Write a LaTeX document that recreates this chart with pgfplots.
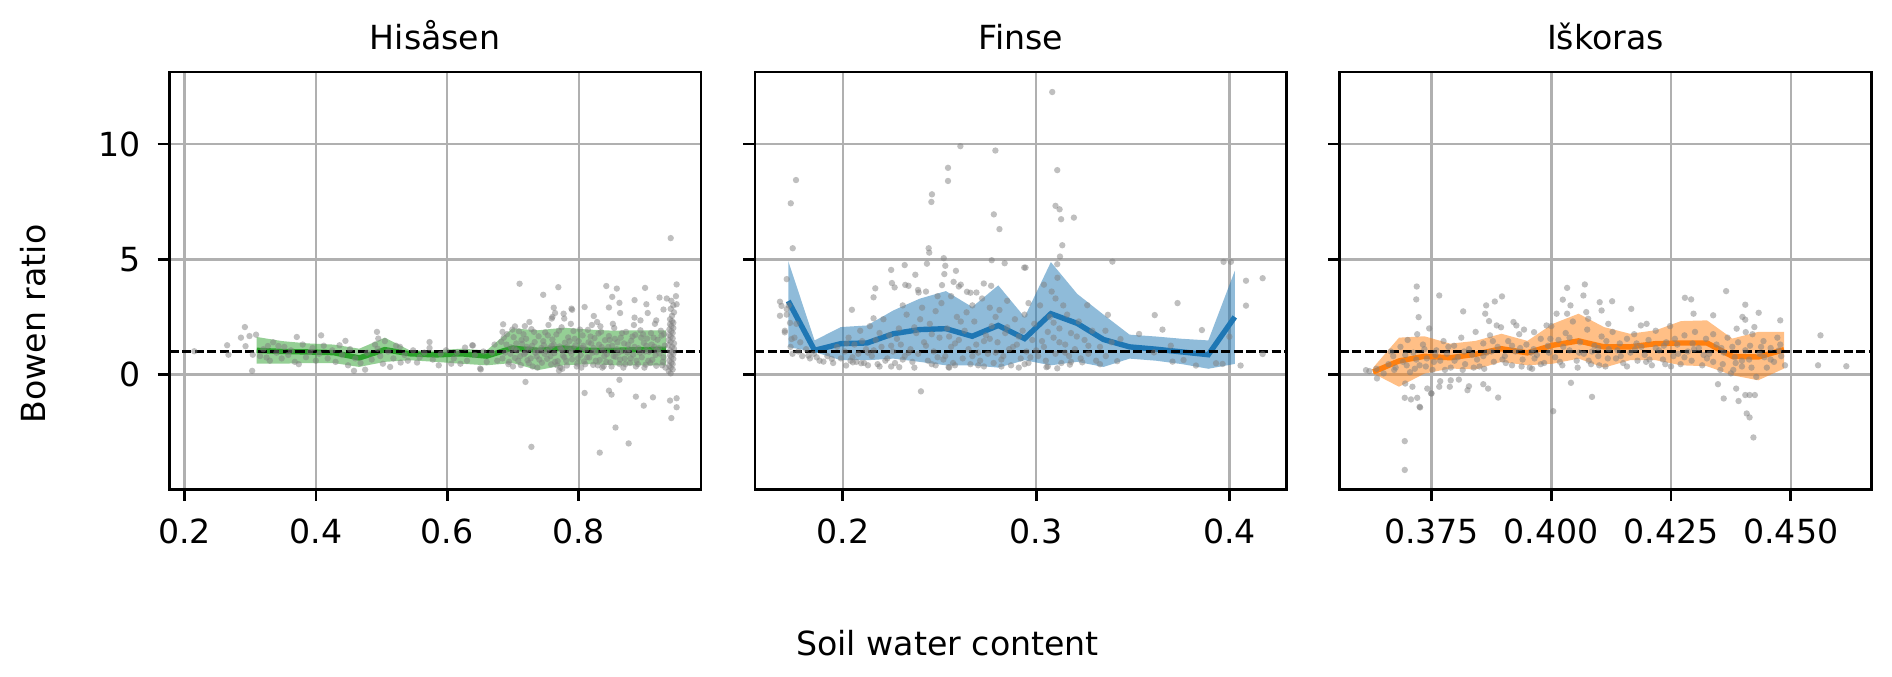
\documentclass[border=0pt]{standalone}
\usepackage{fontspec}
\setmainfont{DejaVu Sans}
\usepackage{pgfplots}
\usepackage{pgfplotstable}
\pgfplotsset{compat=1.18}
\usepgfplotslibrary{fillbetween}
\definecolor{tabgreen}{RGB}{44,160,44}
\definecolor{tabblue}{RGB}{31,119,180}
\definecolor{taborange}{RGB}{255,127,14}
\definecolor{gridgray}{RGB}{176,176,176}

\pgfplotstableread{
x med lo hi
0.310 1.05 0.47 1.63
0.349 1.00 0.47 1.45
0.388 0.98 0.50 1.35
0.427 0.95 0.50 1.30
0.466 0.72 0.33 1.12
0.505 1.08 0.55 1.60
0.543 0.90 0.62 1.05
0.582 0.85 0.55 1.05
0.621 0.90 0.47 1.12
0.660 0.80 0.40 1.05
0.699 1.15 0.50 2.00
0.738 1.05 0.19 1.92
0.777 1.15 0.40 2.03
0.816 1.05 0.45 1.95
0.855 1.05 0.40 1.90
0.894 1.08 0.40 1.92
0.933 1.10 0.40 1.92
}\bandA

\pgfplotstableread{
x med lo hi
0.1718 3.19 1.19 4.92
0.1854 1.05 0.98 1.48
0.1990 1.34 0.62 2.06
0.2126 1.37 0.62 2.13
0.2261 1.77 0.69 2.78
0.2397 1.95 0.55 3.29
0.2533 1.99 0.40 3.62
0.2669 1.66 0.40 2.93
0.2804 2.13 0.30 3.87
0.2940 1.56 0.62 2.49
0.3076 2.64 0.40 4.88
0.3212 2.22 0.55 3.50
0.3348 1.52 0.33 2.60
0.3483 1.20 0.69 1.73
0.3619 1.10 0.60 1.65
0.3755 0.98 0.45 1.55
0.3890 0.86 0.25 1.48
0.4027 2.50 0.46 4.50
}\bandB

\pgfplotstableread{
x med lo hi
0.3628 0.11 0.05 0.30
0.3682 0.59 -0.53 1.60
0.3735 0.79 0.04 1.66
0.3789 0.73 0.26 1.34
0.3842 0.88 0.22 1.46
0.3896 1.12 0.55 1.77
0.3950 0.94 0.40 1.46
0.4003 1.27 0.47 2.20
0.4057 1.46 0.69 2.64
0.4110 1.20 0.30 2.06
0.4164 1.20 0.62 1.77
0.4218 1.34 0.62 1.92
0.4271 1.37 0.40 2.32
0.4325 1.37 0.36 2.35
0.4378 0.79 -0.03 1.56
0.4432 0.76 -0.25 1.85
0.4486 1.08 0.26 1.85
}\bandC

\pgfplotsset{
  panel/.style={
    scale only axis, width=132.9pt, height=104.33pt,
    anchor=south west,
    ymin=-4.98, ymax=13.13,
    ytick={0,5,10},
    grid=major,
    major grid style={line width=0.6pt, color=gridgray},
    axis line style={line width=0.67pt},
    every tick/.style={line width=0.67pt, black},
    major tick length=2.9pt,
    tick align=outside,
    xtick pos=left, ytick pos=left,
    tick label style={font=\fontsize{8.3}{10}\selectfont},
    xticklabel style={yshift=-1.5pt},
    yticklabel style={xshift=-1.2pt},
    /pgf/number format/assume math mode=true,
  },
  scat/.style={only marks, mark=*, mark size=0.8pt,
    mark options={fill=gray, fill opacity=0.5, draw opacity=0}},
  med/.style={line width=1.35pt, no marks},
  hline/.style={black, line width=0.55pt, dash pattern=on 2.3pt off 0.85pt},
}

\begin{document}
\fontsize{8.3}{10}\selectfont
\begin{tikzpicture}

% ---------------- Hisasen ----------------
\begin{axis}[panel, name=a1, at={(42.33pt,46.68pt)},
  xmin=0.177, xmax=0.986,
  xtick={0.2,0.4,0.6,0.8}, xticklabels={0.2,0.4,0.6,0.8},
  yticklabels={0,5,10}]
\addplot[scat] coordinates {
(0.215,1.01)(0.265,1.27)(0.267,0.86)(0.286,1.60)(0.292,2.06)(0.299,1.67)(0.309,1.73)(0.293,1.23)(0.303,0.16)(0.304,0.86)
(0.325,0.74)(0.327,1.24)(0.343,1.24)(0.371,1.63)(0.374,0.45)(0.391,0.98)(0.408,1.70)(0.436,1.27)(0.445,1.46)(0.449,0.40)
(0.458,0.16)(0.475,0.21)(0.493,1.85)(0.495,1.56)(0.494,1.12)(0.502,0.47)(0.513,0.33)(0.528,1.20)(0.529,0.52)(0.554,0.52)
(0.573,1.41)(0.573,1.15)(0.587,0.40)(0.606,0.47)(0.620,0.47)(0.627,1.17)(0.638,1.27)(0.650,0.26)(0.685,2.18)(0.703,2.09)
(0.710,3.94)(0.719,-0.32)(0.725,2.28)(0.746,3.46)(0.769,3.79)(0.762,2.90)(0.760,2.50)(0.777,2.64)(0.790,2.81)(0.809,2.93)
(0.809,-0.80)(0.823,2.54)
(0.940,5.92)(0.842,3.84)(0.858,3.73)(0.901,3.76)(0.949,3.91)(0.764,2.67)(0.789,2.86)(0.759,2.43)(0.778,2.43)
(0.846,2.91)(0.851,3.37)(0.862,3.11)(0.863,2.67)(0.885,3.23)(0.903,3.05)(0.905,2.67)(0.923,3.34)(0.934,3.30)(0.948,3.40)
(0.949,3.05)(0.929,2.82)(0.918,2.35)(0.885,2.47)(0.894,2.35)(0.684,1.85)(0.828,2.28)(0.833,2.09)(0.639,1.26)
(0.846,-0.70)(0.850,-0.87)(0.862,-0.23)(0.887,-0.96)(0.899,-1.35)(0.913,-0.99)(0.939,-1.13)(0.949,-1.03)(0.949,-1.42)
(0.941,-1.89)(0.856,-2.30)(0.876,-2.99)(0.832,-3.39)(0.728,-3.14)(0.651,0.22)(0.775,0.25)(0.770,0.17)
(0.315,0.80)(0.320,1.10)(0.330,0.60)(0.335,1.40)(0.340,0.95)(0.348,0.70)(0.352,1.20)(0.358,0.85)(0.362,1.05)(0.368,0.55)
(0.380,1.30)(0.385,0.75)(0.395,1.15)(0.400,0.60)(0.405,0.90)(0.412,1.25)(0.418,0.70)(0.425,1.05)(0.430,0.55)(0.440,0.85)
(0.452,1.10)(0.460,0.70)(0.468,0.50)(0.478,0.95)(0.485,0.65)(0.490,1.30)(0.498,0.80)(0.505,1.45)(0.510,1.00)(0.518,0.70)
(0.522,1.25)(0.535,0.85)(0.540,0.60)(0.548,1.05)(0.558,0.75)(0.565,0.95)(0.578,0.65)(0.590,0.90)(0.598,1.05)(0.610,0.70)
(0.615,0.95)(0.630,0.60)(0.642,0.85)(0.655,1.00)(0.660,0.55)(0.668,0.95)(0.672,1.30)(0.676,0.60)
(0.682,1.42)(0.688,0.95)(0.691,1.75)(0.694,0.55)(0.697,1.18)(0.701,1.62)(0.703,0.72)(0.706,1.05)(0.709,1.88)(0.712,0.41)
(0.714,1.33)(0.717,0.88)(0.720,1.55)(0.722,0.62)(0.725,1.12)(0.728,1.97)(0.730,0.35)(0.733,1.41)(0.736,0.79)(0.739,1.66)
(0.741,1.02)(0.744,0.51)(0.747,1.28)(0.749,1.83)(0.752,0.68)(0.755,1.15)(0.758,0.44)(0.760,1.52)(0.763,0.93)(0.766,1.74)
(0.768,0.58)(0.771,1.22)(0.774,2.05)(0.776,0.82)(0.779,1.38)(0.782,0.39)(0.784,1.61)(0.787,1.01)(0.790,0.66)(0.792,1.89)
(0.795,1.27)(0.798,0.48)(0.800,1.45)(0.803,0.85)(0.806,1.70)(0.808,0.57)(0.811,1.09)(0.814,1.94)(0.816,0.74)(0.819,1.35)
(0.822,0.42)(0.824,1.58)(0.827,0.97)(0.830,1.78)(0.832,0.63)(0.835,1.19)(0.838,0.36)(0.840,1.49)(0.843,0.89)(0.846,1.67)
(0.848,0.53)(0.851,1.25)(0.854,2.02)(0.856,0.77)(0.859,1.40)(0.862,0.46)(0.864,1.60)(0.867,1.03)(0.870,0.69)(0.872,1.85)
(0.875,1.30)(0.878,0.50)(0.880,1.47)(0.883,0.86)(0.886,1.72)(0.888,0.60)(0.891,1.14)(0.894,1.92)(0.896,0.75)(0.899,1.37)
(0.902,0.43)(0.904,1.56)(0.907,0.99)(0.910,1.80)(0.912,0.64)(0.915,1.21)(0.918,0.38)(0.920,1.51)(0.923,0.91)(0.926,1.69)
(0.928,0.55)(0.931,1.26)
(0.684,0.70)(0.690,1.30)(0.696,0.90)(0.702,1.10)(0.708,0.60)(0.713,1.50)(0.719,0.95)(0.724,0.50)(0.729,1.25)(0.735,1.05)
(0.740,0.65)(0.746,1.45)(0.751,1.00)(0.757,0.80)(0.762,1.30)(0.767,0.40)(0.773,1.10)(0.778,0.75)(0.783,1.20)(0.789,0.90)
(0.794,1.55)(0.799,0.70)(0.805,1.15)(0.810,0.45)(0.815,1.40)(0.821,0.95)(0.826,0.60)(0.831,1.30)(0.837,1.05)(0.842,0.55)
(0.847,1.50)(0.853,0.80)(0.858,1.10)(0.863,0.65)(0.869,1.35)(0.874,0.95)(0.879,0.70)(0.885,1.20)(0.890,0.45)(0.895,1.60)
(0.901,1.00)(0.906,0.60)(0.911,1.30)(0.917,0.85)(0.922,1.15)(0.927,0.40)(0.930,1.75)
(0.686,1.60)(0.693,0.45)(0.699,1.95)(0.705,1.35)(0.711,0.80)(0.716,1.75)(0.721,1.20)(0.727,0.70)(0.732,1.85)(0.737,0.30)
(0.743,1.15)(0.748,0.90)(0.753,1.70)(0.759,1.25)(0.764,0.55)(0.770,1.90)(0.775,1.05)(0.781,0.60)(0.786,1.45)(0.791,1.15)
(0.797,0.35)(0.802,1.95)(0.807,1.25)(0.813,0.75)(0.818,1.65)(0.823,1.15)(0.829,0.40)(0.834,1.85)(0.839,0.80)(0.845,1.20)
(0.850,0.35)(0.855,1.55)(0.861,0.95)(0.866,1.80)(0.871,0.45)(0.877,1.10)(0.882,1.65)(0.887,0.35)(0.893,0.95)(0.898,1.75)
(0.903,1.25)(0.909,0.50)(0.914,1.60)(0.919,1.05)(0.925,1.90)(0.929,0.75)
(0.700,0.35)(0.718,2.10)(0.734,0.95)(0.754,2.15)(0.772,0.30)(0.788,2.20)(0.804,0.30)(0.820,2.15)(0.836,0.30)(0.852,2.20)
(0.868,0.30)(0.884,2.15)(0.900,0.30)(0.916,2.20)(0.932,0.30)
(0.937,0.15)(0.940,0.30)(0.943,0.45)(0.938,0.60)(0.941,0.75)(0.944,0.90)(0.939,1.05)(0.942,1.20)(0.945,1.35)(0.937,1.50)
(0.940,1.65)(0.943,1.80)(0.938,1.95)(0.941,2.10)(0.944,2.25)(0.939,2.40)(0.942,2.55)(0.945,2.70)(0.940,2.85)(0.943,0.22)
(0.938,0.38)(0.941,0.52)(0.944,0.68)(0.939,0.83)(0.942,0.97)(0.945,1.12)(0.937,1.28)(0.940,1.42)(0.943,1.57)(0.938,1.72)
(0.941,1.88)(0.944,2.02)(0.939,2.18)(0.942,2.32)(0.944,3.00)(0.941,3.20)(0.940,0.05)
};
\addplot[name path=hiA, draw=none, forget plot] table[x=x, y=hi] {\bandA};
\addplot[name path=loA, draw=none, forget plot] table[x=x, y=lo] {\bandA};
\addplot[tabgreen, fill opacity=0.5, draw=none] fill between[of=hiA and loA];
\addplot[med, tabgreen] table[x=x, y=med] {\bandA};
\addplot[hline] coordinates {(0.177,1) (0.986,1)};
\end{axis}

% ---------------- Finse ----------------
\begin{axis}[panel, name=a2, at={(188.75pt,46.68pt)},
  xmin=0.1546, xmax=0.4295,
  xtick={0.2,0.3,0.4}, xticklabels={0.2,0.3,0.4},
  yticklabels={}]
\addplot[scat] coordinates {
(0.1758,8.44)(0.1731,7.43)(0.1741,5.48)(0.1710,4.14)(0.1675,3.16)(0.1683,2.98)(0.1675,2.55)(0.1710,2.84)(0.1700,1.83)(0.1727,2.24)
(0.1735,1.54)(0.1822,0.82)(0.1865,0.75)(0.1900,0.56)(0.1943,0.68)(0.2047,2.81)(0.2017,0.39)(0.2052,0.53)(0.2095,0.49)(0.2159,2.44)
(0.2159,3.35)(0.2168,3.74)(0.2250,4.54)(0.2254,3.97)(0.2268,3.78)(0.2320,4.75)(0.2323,3.89)(0.2340,3.85)(0.2375,4.33)(0.2389,3.67)
(0.2392,3.56)(0.2292,0.32)(0.2404,-0.73)(0.2444,5.48)(0.2447,5.29)(0.2461,7.82)(0.2458,7.49)(0.2435,4.81)(0.2522,5.05)(0.2530,4.72)
(0.2525,4.36)(0.2513,3.88)(0.2544,8.97)(0.2544,8.40)(0.2608,9.91)(0.2789,9.72)(0.2781,6.95)(0.2810,6.31)(0.2770,4.96)(0.2837,4.83)
(0.2585,4.50)(0.2573,4.02)(0.2600,3.82)(0.2642,3.59)(0.2691,3.56)(0.2729,3.95)(0.2767,3.85)(0.2938,4.64)(0.2547,0.32)
(0.3083,12.26)(0.3109,8.87)(0.3100,7.32)(0.3121,7.17)(0.3129,6.74)(0.3195,6.81)(0.3135,5.61)(0.3123,5.12)(0.3109,4.79)(0.2945,4.64)
(0.3394,4.90)(0.3264,3.01)(0.3371,2.59)(0.3532,1.76)(0.3613,2.58)(0.3653,1.95)(0.3731,3.10)(0.3857,1.93)(0.3969,4.89)(0.4007,4.89)
(0.4085,4.07)(0.4085,2.99)(0.4171,4.18)(0.4171,0.89)(0.4057,0.39)(0.3174,0.43)(0.3238,0.53)(0.3053,0.32)(0.3109,0.27)(0.3419,0.58)
(0.3705,0.56)(0.3762,0.63)(0.3826,0.39)(0.3930,0.49)(0.3964,0.46)(0.3999,1.64)(0.3436,1.54)(0.3358,1.90)(0.3609,0.96)(0.3696,1.25)
(0.170,1.9)(0.171,2.6)(0.172,3.0)(0.173,1.2)(0.174,0.9)(0.175,1.6)(0.176,2.2)(0.177,1.0)(0.178,1.4)(0.179,0.8)
(0.181,1.1)(0.183,0.7)(0.185,0.9)(0.188,0.6)(0.192,0.8)(0.195,0.5)(0.197,1.2)(0.199,0.7)
(0.201,1.0)(0.203,1.6)(0.204,0.6)(0.206,1.3)(0.208,0.9)(0.209,1.9)(0.211,0.5)(0.212,1.1)(0.214,2.1)(0.215,0.8)
(0.217,1.5)(0.218,0.45)(0.220,1.2)(0.221,2.4)(0.223,0.7)(0.224,1.7)(0.226,1.0)(0.227,0.5)(0.229,2.0)(0.230,1.3)
(0.232,0.8)(0.233,2.6)(0.235,1.1)(0.236,0.55)(0.238,1.8)(0.239,0.9)(0.241,2.9)(0.242,1.4)(0.244,0.6)(0.245,2.2)
(0.247,1.0)(0.248,0.4)(0.250,1.6)(0.251,3.1)(0.253,0.8)(0.254,2.0)(0.256,1.2)(0.257,0.5)(0.259,2.5)(0.260,1.5)
(0.262,0.7)(0.263,1.9)(0.265,1.1)(0.266,0.45)(0.268,2.3)(0.269,1.3)(0.271,0.6)(0.272,3.3)(0.274,1.7)(0.275,0.9)
(0.277,2.1)(0.278,0.5)(0.280,1.4)(0.281,2.8)(0.283,0.8)(0.284,1.8)(0.286,1.1)(0.287,0.4)(0.289,2.4)(0.290,1.3)
(0.292,0.7)(0.293,1.9)(0.295,1.0)(0.296,0.5)(0.298,1.5)(0.299,2.2)(0.301,0.8)(0.302,3.0)(0.304,1.2)(0.305,0.6)
(0.307,2.5)(0.308,3.6)(0.309,1.6)(0.310,0.9)(0.311,4.2)(0.312,2.0)(0.313,0.5)(0.314,3.0)(0.315,1.3)(0.316,2.6)
(0.317,0.8)(0.318,1.8)(0.320,1.1)(0.322,2.3)(0.323,0.7)(0.325,1.5)(0.327,0.9)(0.329,1.9)(0.331,0.6)(0.333,1.2)
(0.336,0.8)(0.339,1.4)
(0.205,0.75)(0.210,1.45)(0.216,1.05)(0.222,0.60)(0.228,1.55)(0.234,0.95)(0.240,2.40)(0.246,1.75)(0.252,0.65)(0.258,1.35)
(0.264,2.70)(0.270,0.95)(0.276,1.55)(0.282,0.65)(0.288,1.20)(0.294,2.60)(0.300,1.05)(0.306,1.85)(0.312,1.40)(0.318,0.55)
(0.219,0.35)(0.237,0.30)(0.255,0.30)(0.273,0.35)(0.291,0.30)(0.243,3.6)(0.261,3.9)(0.249,3.4)(0.267,3.0)(0.285,3.2)
(0.231,3.0)(0.279,2.5)
(0.202,1.35)(0.207,0.55)(0.213,0.95)(0.219,1.80)(0.225,1.25)(0.231,0.65)(0.237,2.05)(0.243,1.25)(0.249,0.75)(0.255,1.65)
(0.261,2.30)(0.267,0.80)(0.273,1.45)(0.279,0.95)(0.285,2.05)(0.291,1.65)(0.297,0.75)(0.303,1.45)(0.309,2.25)(0.315,0.95)
(0.321,1.65)(0.327,1.25)(0.333,0.45)(0.213,0.40)(0.225,0.35)(0.246,0.45)(0.258,0.40)(0.270,0.40)(0.282,0.35)(0.294,0.45)
(0.306,0.35)(0.248,2.75)(0.256,3.40)(0.266,3.55)(0.276,2.90)(0.296,3.10)(0.304,3.90)(0.310,3.30)
};
\addplot[name path=hiB, draw=none, forget plot] table[x=x, y=hi] {\bandB};
\addplot[name path=loB, draw=none, forget plot] table[x=x, y=lo] {\bandB};
\addplot[tabblue, fill opacity=0.5, draw=none] fill between[of=hiB and loB];
\addplot[med, tabblue] table[x=x, y=med] {\bandB};
\addplot[hline] coordinates {(0.1546,1) (0.4295,1)};
\end{axis}

% ---------------- Iskoras ----------------
\begin{axis}[panel, name=a3, at={(334.9pt,46.68pt)},
  xmin=0.3558, xmax=0.4668,
  xtick={0.375,0.4,0.425,0.45}, xticklabels={0.375,0.400,0.425,0.450},
  yticklabels={}]
\addplot[scat] coordinates {
(0.3719,3.82)(0.3718,3.26)(0.3766,3.43)(0.3723,2.49)(0.3816,2.74)(0.3864,3.00)(0.3882,3.17)(0.3897,3.39)(0.3862,2.64)(0.3870,2.32)
(0.3886,2.13)(0.3921,2.28)(0.3927,2.13)(0.3943,1.95)(0.3964,1.84)(0.3990,2.13)(0.4033,3.76)(0.4024,3.25)(0.4040,3.00)(0.4070,3.91)
(0.4067,3.43)(0.4011,2.64)(0.4033,2.64)(0.4073,2.71)(0.4077,2.42)(0.4101,3.14)(0.4105,2.78)(0.4127,3.18)(0.4119,2.20)(0.4167,2.85)
(0.4187,2.13)(0.4199,2.20)(0.4279,3.33)(0.4292,3.26)(0.4297,2.64)(0.4338,2.57)(0.4365,3.62)(0.4405,3.03)(0.4399,2.50)(0.4405,2.38)
(0.4433,2.68)(0.4387,1.99)(0.4406,1.84)(0.4478,2.35)(0.4562,1.70)(0.4557,0.40)(0.4616,0.36)(0.4424,2.06)
(0.3636,-0.17)(0.3613,0.19)(0.3694,-1.01)(0.3707,-1.08)(0.3720,-1.01)(0.3725,-1.40)(0.3710,-0.53)(0.3695,-0.39)(0.3741,-0.61)(0.3749,-0.82)
(0.3768,-0.29)(0.3766,-0.53)(0.3788,-0.53)(0.3790,-0.25)(0.3807,-0.22)(0.3828,-0.51)(0.3825,-0.68)(0.3858,-0.42)(0.3868,-0.61)(0.3889,-1.00)
(0.3694,-2.89)(0.3694,-4.14)(0.4004,-1.59)(0.4041,-0.36)(0.4085,-0.97)(0.4348,-0.42)(0.4360,-1.04)(0.4386,-0.61)(0.4391,-1.15)(0.4405,-0.89)
(0.4414,-0.89)(0.4425,-0.89)(0.4408,-1.69)(0.4414,-1.86)(0.4422,-2.73)(0.3726,-1.43)(0.3750,-0.82)
(0.3620,0.15)(0.3635,0.25)(0.3650,0.05)(0.3660,0.45)(0.3670,0.80)(0.3675,0.30)(0.3685,1.20)(0.3690,0.55)(0.3700,1.50)(0.3705,0.10)
(0.3712,0.95)(0.3720,1.75)(0.3725,0.40)(0.3732,1.30)(0.3740,0.70)(0.3745,2.00)(0.3752,0.20)(0.3760,1.05)(0.3768,0.60)(0.3775,1.45)
(0.3782,0.90)(0.3790,0.30)(0.3797,1.25)(0.3805,0.75)(0.3812,1.60)(0.3820,0.45)(0.3828,1.10)(0.3835,0.85)(0.3842,1.85)(0.3850,0.35)
(0.3858,1.35)(0.3865,0.95)(0.3872,1.70)(0.3880,0.55)(0.3888,1.20)(0.3895,2.05)(0.3903,0.80)(0.3910,1.45)(0.3918,0.40)(0.3925,1.00)
(0.3933,1.75)(0.3940,0.65)(0.3948,1.30)(0.3955,0.30)(0.3963,1.10)(0.3970,0.85)(0.3978,1.55)(0.3985,0.50)(0.3993,1.25)(0.4000,2.10)
(0.4008,0.75)(0.4015,1.50)(0.4023,0.40)(0.4030,1.80)(0.4038,1.05)(0.4045,2.30)(0.4053,0.60)(0.4060,1.40)(0.4068,0.90)(0.4075,1.95)
(0.4083,0.45)(0.4090,1.25)(0.4098,0.80)(0.4105,1.65)(0.4113,0.35)(0.4120,1.10)(0.4128,1.85)(0.4135,0.70)(0.4143,1.35)(0.4150,0.50)
(0.4158,1.55)(0.4165,0.95)(0.4173,1.75)(0.4180,0.60)(0.4188,1.20)(0.4195,0.85)(0.4203,1.50)(0.4210,0.40)(0.4218,1.90)(0.4225,1.05)
(0.4233,0.65)(0.4240,1.40)(0.4248,2.10)(0.4255,0.80)(0.4263,1.30)(0.4270,0.45)(0.4278,1.70)(0.4285,1.00)(0.4293,0.60)(0.4300,1.85)
(0.4308,1.15)(0.4315,0.40)(0.4323,1.55)(0.4330,0.90)(0.4338,0.55)(0.4345,1.30)(0.4353,0.20)(0.4360,0.95)(0.4368,1.60)(0.4375,0.05)
(0.4383,0.75)(0.4390,1.40)(0.4398,0.35)(0.4405,1.05)(0.4413,0.65)(0.4420,1.75)(0.4428,-0.10)(0.4435,0.90)(0.4443,1.45)(0.4450,0.30)
(0.4458,1.15)(0.4465,0.55)(0.4472,1.60)(0.4480,0.80)(0.4488,0.40)
(0.3665,1.00)(0.3695,0.85)(0.3715,0.25)(0.3735,1.10)(0.3755,0.55)(0.3785,1.20)(0.3815,0.20)(0.3845,0.65)(0.3875,1.00)(0.3905,0.50)
(0.3935,1.15)(0.3965,0.70)(0.3995,0.95)(0.4025,1.20)(0.4055,0.30)(0.4085,1.00)(0.4115,1.45)(0.4145,0.80)(0.4175,1.10)(0.4205,0.65)
(0.4235,1.25)(0.4265,0.90)(0.4295,1.35)(0.4325,0.70)(0.4355,1.15)(0.4385,0.50)(0.4415,1.25)(0.4445,0.75)(0.4475,1.05)(0.3860,0.25)
(0.3960,0.25)(0.4100,0.40)(0.4250,0.35)(0.4380,0.20)
(0.3672,0.20)(0.3698,0.40)(0.3718,0.65)(0.3738,0.35)(0.3758,0.85)(0.3778,0.20)(0.3798,0.60)(0.3818,1.00)(0.3838,0.30)(0.3858,0.80)
(0.3878,1.45)(0.3898,0.65)(0.3918,1.25)(0.3938,0.35)(0.3958,0.95)(0.3978,0.45)(0.3998,1.55)(0.4018,0.55)(0.4038,1.60)(0.4058,0.95)
(0.4078,0.60)(0.4098,1.15)(0.4118,0.70)(0.4138,1.05)(0.4158,0.35)(0.4178,1.35)(0.4198,0.55)(0.4218,1.15)(0.4238,0.45)(0.4258,1.55)
(0.4278,0.75)(0.4298,1.10)(0.4318,0.85)(0.4338,1.75)(0.4358,0.45)(0.4378,1.20)(0.4398,0.60)(0.4418,0.30)(0.4438,1.20)(0.4458,0.65)
(0.4478,1.30)
};
\addplot[name path=hiC, draw=none, forget plot] table[x=x, y=hi] {\bandC};
\addplot[name path=loC, draw=none, forget plot] table[x=x, y=lo] {\bandC};
\addplot[taborange, fill opacity=0.5, draw=none] fill between[of=hiC and loC];
\addplot[med, taborange] table[x=x, y=med] {\bandC};
\addplot[hline] coordinates {(0.3558,1) (0.4668,1)};
\end{axis}

\node[anchor=base] at ([yshift=5.5pt]a1.north) {Hisåsen};
\node[anchor=base] at ([yshift=5.5pt]a2.north) {Finse};
\node[anchor=base] at ([yshift=5.5pt]a3.north) {Iškoras};
\node[rotate=90, anchor=center] at (8.4pt,88pt) {Bowen ratio};
\node[anchor=base] at (236.9pt,5.1pt) {Soil water content};
\pgfresetboundingbox
\path[use as bounding box] (0,0) rectangle (473pt,169pt);
\end{tikzpicture}
\end{document}
